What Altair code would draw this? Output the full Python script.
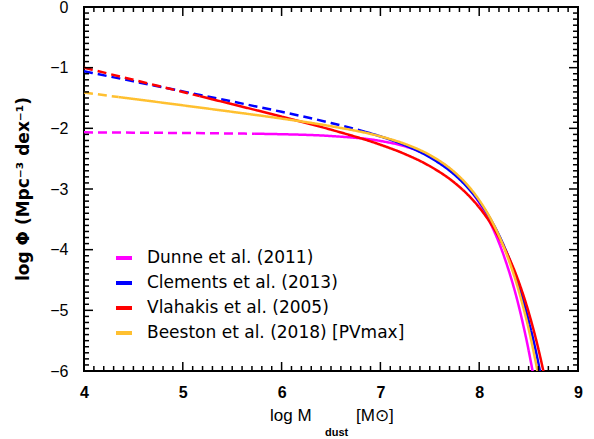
import altair as alt
import pandas as pd

# ---------------- data ----------------
SERIES = ["Dunne et al. (2011)", "Clements et al. (2013)",
          "Vlahakis et al. (2005)", "Beeston et al. (2018) [PVmax]"]
COLORS = ["#ff00ff", "#0000ff", "#ff0000", "#ffc030"]

DUNNE_X = [4.0, 4.5, 5.0, 5.5, 5.73, 6.0, 6.5, 7.0, 7.25, 7.5, 7.75, 7.875, 8.0, 8.125, 8.25, 8.4, 8.5, 8.55, 8.6]
DUNNE_Y = [-2.066, -2.071, -2.077, -2.085, -2.089, -2.097, -2.127, -2.208, -2.298, -2.456, -2.734, -2.946,
           -3.227, -3.602, -4.103, -4.927, -5.658, -6.09, -6.576]
DUNNE_SOLID_FROM = 5.73

CLEMENTS_X = [4.0, 4.5, 5.0, 5.5, 6.0, 6.5, 6.85, 7.0, 7.25, 7.5, 7.75, 7.875, 8.0, 8.125, 8.25, 8.4, 8.5, 8.6, 8.65]
CLEMENTS_Y = [-1.06, -1.225, -1.391, -1.558, -1.728, -1.911, -2.059, -2.133, -2.280, -2.477, -2.764, -2.961,
              -3.209, -3.527, -3.937, -4.595, -5.168, -5.880, -6.30]
CLEMENTS_SOLID_FROM = 6.85

VLAHAKIS_X = [4.0, 4.5, 5.0, 5.17, 5.5, 6.0, 6.5, 7.0, 7.25, 7.5, 7.75, 7.875, 8.0, 8.125, 8.25, 8.4, 8.5, 8.6, 8.65, 8.7]
VLAHAKIS_Y = [-1.0, -1.2, -1.401, -1.469, -1.602, -1.807, -2.022, -2.270, -2.425, -2.623, -2.896, -3.078,
              -3.304, -3.589, -3.953, -4.529, -5.028, -5.644, -6.006, -6.41]
VLAHAKIS_SOLID_FROM = 5.17

BEESTON_X = [4.0, 4.35, 4.5, 5.0, 5.5, 6.0, 6.5, 7.0, 7.25, 7.5, 7.75, 7.875, 8.0, 8.125, 8.25, 8.4, 8.5, 8.6, 8.65]
BEESTON_Y = [-1.41, -1.484, -1.515, -1.621, -1.728, -1.839, -1.965, -2.133, -2.258, -2.440, -2.722, -2.923,
             -3.183, -3.520, -3.961, -4.677, -5.305, -6.090, -6.553]
BEESTON_SOLID_FROM = 4.35

MAJOR_X = [4, 5, 6, 7, 8, 9]
MINOR_X = [round(4 + i * 0.1, 1) for i in range(51) if i % 10 != 0]
MAJOR_Y = [-6, -5, -4, -3, -2, -1, 0]
MINOR_Y = [round(-6 + i * 0.1, 1) for i in range(61) if i % 10 != 0]

X_TITLE_MAIN = "log  M"
X_TITLE_SUB = "dust"
X_TITLE_UNIT = "[M\u2299]"
Y_TITLE = "log  \u03a6  (Mpc\u207b\u00b3  dex\u207b\u00b9)"

W, H = 494, 364
MAJOR_LEN, MINOR_LEN = 9, 5

# ---------------- table ----------------
rows = []
for name, xs, ys, brk in [
    (SERIES[0], DUNNE_X, DUNNE_Y, DUNNE_SOLID_FROM),
    (SERIES[1], CLEMENTS_X, CLEMENTS_Y, CLEMENTS_SOLID_FROM),
    (SERIES[2], VLAHAKIS_X, VLAHAKIS_Y, VLAHAKIS_SOLID_FROM),
    (SERIES[3], BEESTON_X, BEESTON_Y, BEESTON_SOLID_FROM),
]:
    for xv, yv in zip(xs, ys):
        if xv <= brk:
            rows.append({"series": name, "x": xv, "y": yv, "seg": "dashed"})
        if xv >= brk:
            rows.append({"series": name, "x": xv, "y": yv, "seg": "solid"})
df = pd.DataFrame(rows)

xscale = alt.Scale(domain=[4, 9], nice=False)
yscale = alt.Scale(domain=[-6, 0], nice=False)

LABEL_FONT = "Liberation Sans"

XAXIS = alt.Axis(values=MAJOR_X, ticks=False, domain=False, grid=False, title=None,
                 labelFont=LABEL_FONT, labelFontSize=16, labelFontWeight="bold",
                 labelColor="black", labelPadding=13, labelFlush=False,
                 labelOverlap=False, format="d")
YAXIS = alt.Axis(values=MAJOR_Y, ticks=False, domain=False, grid=False, title=None,
                 labelFont=LABEL_FONT, labelFontSize=16, labelColor="black",
                 labelPadding=16, labelFlush=False, labelOverlap=False, format="d")

lines = alt.Chart(df).mark_line(strokeWidth=2.5, interpolate="monotone", clip=True).encode(
    x=alt.X("x:Q", scale=xscale, axis=XAXIS),
    y=alt.Y("y:Q", scale=yscale, axis=YAXIS),
    color=alt.Color("series:N", scale=alt.Scale(domain=SERIES, range=COLORS),
                    legend=alt.Legend(title=None, orient="none", legendX=30, legendY=241,
                                      symbolType="stroke", symbolSize=256, symbolStrokeWidth=4,
                                      labelFont="DejaVu Sans", labelFontSize=17, labelColor="black",
                                      labelOffset=13, rowPadding=7, padding=0, labelLimit=400)),
    strokeDash=alt.StrokeDash("seg:N", scale=alt.Scale(domain=["dashed", "solid"], range=[[9, 5], [1, 0]]),
                              legend=None),
)


def xticks(values, length, top, kind):
    d = pd.DataFrame({"v": values, "kind": [kind] * len(values)})
    y0, y1 = (0, length) if top else (H, H - length)
    return alt.Chart(d).mark_rule(color="black", strokeWidth=1.5).encode(
        x=alt.X("v:Q", scale=xscale, axis=XAXIS), y=alt.value(y0), y2=alt.value(y1))


def yticks(values, length, right, kind):
    d = pd.DataFrame({"v": values, "kind": [kind] * len(values)})
    x0, x1 = (W, W - length) if right else (0, length)
    return alt.Chart(d).mark_rule(color="black", strokeWidth=1.5).encode(
        y=alt.Y("v:Q", scale=yscale, axis=YAXIS), x=alt.value(x0), x2=alt.value(x1))


ticks = [
    xticks(MAJOR_X, MAJOR_LEN, False, "xmaj_b"), xticks(MINOR_X, MINOR_LEN, False, "xmin_b"),
    xticks(MAJOR_X, MAJOR_LEN, True, "xmaj_t"), xticks(MINOR_X, MINOR_LEN, True, "xmin_t"),
    yticks(MAJOR_Y, MAJOR_LEN, False, "ymaj_l"), yticks(MINOR_Y, MINOR_LEN, False, "ymin_l"),
    yticks(MAJOR_Y, MAJOR_LEN, True, "ymaj_r"), yticks(MINOR_Y, MINOR_LEN, True, "ymin_r"),
]


def text_layer(txt, x, y, size, weight="normal", font=LABEL_FONT, angle=0, align="left", baseline="alphabetic"):
    return alt.Chart(pd.DataFrame({"t": [txt]})).mark_text(
        font=font, fontSize=size, fontWeight=weight, color="black", align=align, baseline=baseline,
        angle=angle
    ).encode(text="t:N", x=alt.value(x), y=alt.value(y))


t_main = text_layer(X_TITLE_MAIN, 186, 414, 17)
t_sub = text_layer(X_TITLE_SUB, 241, 429, 11, weight="bold")
t_unit = text_layer(X_TITLE_UNIT, 272, 414, 17)
t_y = text_layer(Y_TITLE, -60, 182, 17, weight="bold", font="DejaVu Sans", angle=270,
                 align="center", baseline="middle")

chart = alt.layer(lines, *ticks, t_main, t_sub, t_unit, t_y).properties(
    width=W, height=H,
    autosize=alt.AutoSizeParams(type="none"),
    padding={"left": 84, "top": 7, "right": 16, "bottom": 68},
).configure_view(stroke="black", strokeWidth=2)

chart.save("out.html", embed_options={"renderer": "svg", "actions": False})
